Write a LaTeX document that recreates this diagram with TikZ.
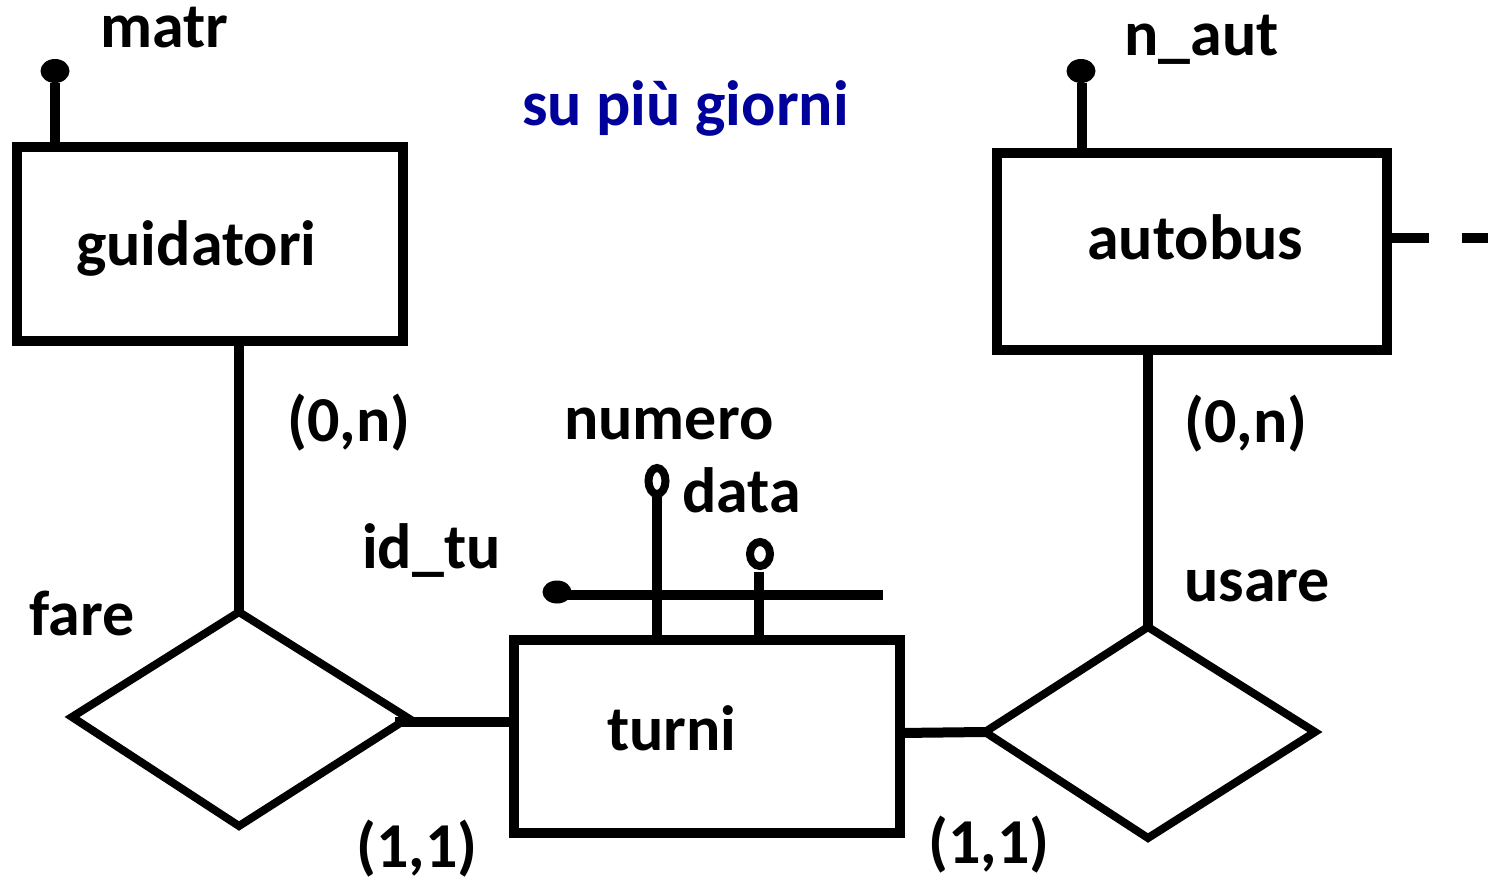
\documentclass[tikz,border=0pt]{standalone}
\usepackage{fontspec}
\setmainfont{Carlito}
\usetikzlibrary{shapes.geometric}
\definecolor{txtblue}{RGB}{0,0,154}
\begin{document}
\begin{tikzpicture}[x=1pt,y=-1pt,
  lbl/.style={inner sep=0pt,anchor=base west,font=\fontsize{64}{64}\selectfont\bfseries},
  edge/.style={line width=10pt},
  ent/.style={draw,line width=10pt},
  rel/.style={draw,line width=8pt,line join=miter},
  opencircle/.style={draw,line width=8pt,fill=white}]
\useasboundingbox (0,0) rectangle (1488,877);

% entities
\draw[ent] (17,147) rectangle (403,341);
\coordinate (gtop) at (55,147);
\coordinate (gbot) at (239,341);
\draw[ent] (997,153) rectangle (1387,350);
\coordinate (atop) at (1082,153);
\coordinate (abot) at (1148,350);
\coordinate (aright) at (1387,238);
\draw[ent] (514,640) rectangle (900,833);
\coordinate (tleft) at (514,722);
\coordinate (tright) at (900,733);
\coordinate (tnum) at (657,640);
\coordinate (tdata) at (759,640);

% relationships
\draw[rel] (239,612) coordinate (ftop) -- (408,718) coordinate (fright) -- (239,826) -- (72,717) -- cycle;
\draw[rel] (1148,627) coordinate (utop) -- (1315,732) -- (1148,838) -- (985,732) coordinate (uleft) -- cycle;

% connectors
\draw[edge] (gbot) -- (ftop);
\draw[edge] (395,722) -- (tleft);
\draw[edge] (abot) -- (utop);
\draw[edge] (tright) -- (uleft);
\draw[edge] (aright) -- (1429,238);
\draw[edge] (1462,238) coordinate (dashs) -- (1488,238) coordinate (dashe);

% identifiers
\draw[edge] (gtop) -- (55,83) coordinate (matrend);
\fill (55,71) ellipse [x radius=14.5, y radius=12];
\draw[edge] (atop) -- (1082,83) coordinate (nautend);
\fill (1081,71) ellipse [x radius=14.5, y radius=12];

% composite identifier of turni
\draw[edge] (567,595) coordinate (idl) -- (883,595) coordinate (idr);
\fill (557,592) ellipse [x radius=14.5, y radius=11.5];
\draw[edge] (tnum) -- (657,497) coordinate (numend);
\draw[opencircle] (657,481) ellipse [x radius=8.5, y radius=13];
\draw[edge] (tdata) -- (759,572) coordinate (dataend);
\draw[opencircle] (760,554) ellipse [x radius=10, y radius=12];

% labels
\node[lbl] (matr) at (100,48) {matr};
\node[lbl,text=txtblue] (su) at (522,126) {su più giorni};
\node[lbl] (naut) at (1124,56) {n\_aut};
\node[lbl] (guid) at (76,266) {guidatori};
\node[lbl] (auto) at (1087,260) {autobus};
\node[lbl] (c1) at (287,441) {(0,n)};
\node[lbl] (c2) at (1184,442) {(0,n)};
\node[lbl] (numero) at (564,439) {numero};
\node[lbl] (data) at (682,512) {data};
\node[lbl] (idtu) at (362,568) {id\_tu};
\node[lbl] (usare) at (1184,601) {usare};
\node[lbl] (fare) at (29,635) {fare};
\node[lbl] (turni) at (607,750) {turni};
\node[lbl] (c3) at (356,867) {(1,1)};
\node[lbl] (c4) at (928,863) {(1,1)};
\end{tikzpicture}
\end{document}
